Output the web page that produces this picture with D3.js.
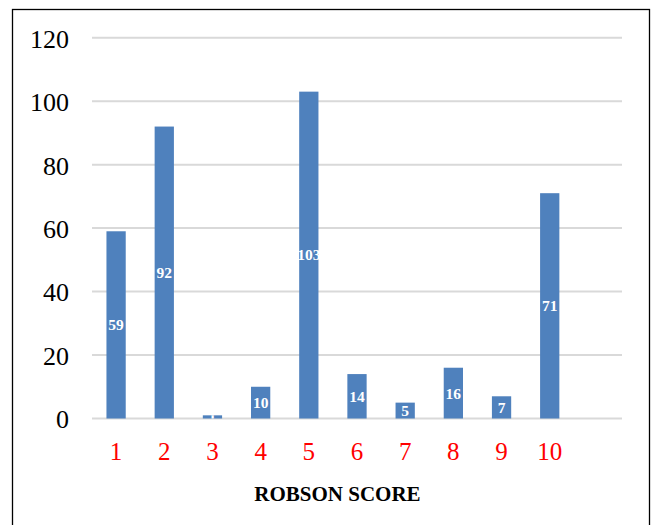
<!DOCTYPE html>
<html>
<head>
<meta charset="utf-8">
<script src="https://cdn.jsdelivr.net/npm/d3@7"></script>
<style>
  html, body { margin: 0; padding: 0; background: #fff; }
  svg { display: block; }
</style>
</head>
<body>
<svg id="chart" width="655" height="525"></svg>
<script>
// Robson group counts
const categories = ["1", "2", "3", "4", "5", "6", "7", "8", "9", "10", ""];
const values = [59, 92, 1, 10, 103, 14, 5, 16, 7, 71, null];
const yTicks = [0, 20, 40, 60, 80, 100, 120];
const xTitle = "ROBSON SCORE";

const svg = d3.select("#chart");
const font = "'Liberation Serif', 'Times New Roman', serif";

// outer frame
svg.append("rect")
  .attr("x", 12.5).attr("y", 9.5)
  .attr("width", 637).attr("height", 530)
  .attr("fill", "none").attr("stroke", "#000").attr("stroke-width", 1.3);

const plot = { left: 92, right: 622, top: 37.7, bottom: 418.5 };

const x = d3.scaleBand()
  .domain(categories.map((c, i) => i))
  .range([plot.left, plot.right])
  .paddingInner(0.6).paddingOuter(0.3);

const y = d3.scaleLinear().domain([0, 120]).range([plot.bottom, plot.top]);

// gridlines
svg.append("g").selectAll("line").data(yTicks).join("line")
  .attr("x1", plot.left).attr("x2", plot.right)
  .attr("y1", d => y(d)).attr("y2", d => y(d))
  .attr("stroke", "#d9d9d9").attr("stroke-width", 2);

// y axis labels
const yAxis = svg.append("g")
  .attr("transform", `translate(${69},0)`)
  .call(d3.axisLeft(y).tickValues(yTicks).tickSize(0).tickPadding(0));
yAxis.select(".domain").remove();
yAxis.selectAll("text")
  .attr("font-family", font).attr("font-size", 26).attr("fill", "#000")
  .attr("dy", "0.36em");

// bars
const data = categories.map((c, i) => ({ i, c, v: values[i] })).filter(d => d.v != null);
svg.append("g").selectAll("rect").data(data).join("rect")
  .attr("x", d => x(d.i)).attr("width", x.bandwidth())
  .attr("y", d => y(d.v)).attr("height", d => y(0) - y(d.v))
  .attr("fill", "#4f81bd");

// labels are clipped to each bar's vertical extent
const defs = svg.append("defs");
defs.selectAll("clipPath").data(data).join("clipPath")
  .attr("id", d => `bar-clip-${d.i}`)
  .append("rect")
  .attr("x", d => x(d.i) - 20).attr("width", x.bandwidth() + 40)
  .attr("y", d => y(d.v)).attr("height", d => y(0) - y(d.v));

// value labels centered inside bars
svg.append("g").selectAll("text").data(data).join("text")
  .attr("clip-path", d => `url(#bar-clip-${d.i})`)
  .attr("x", d => x(d.i) + x.bandwidth() / 2)
  .attr("y", d => (y(d.v) + y(0)) / 2)
  .attr("dy", "0.35em")
  .attr("text-anchor", "middle")
  .attr("font-family", font).attr("font-weight", "bold").attr("font-size", 15.5)
  .attr("fill", "#fff")
  .text(d => d.v);

// x axis category labels
const xAxis = svg.append("g")
  .attr("transform", `translate(0,${plot.bottom})`)
  .call(d3.axisBottom(x).tickFormat(i => categories[i]).tickSize(0).tickPadding(0));
xAxis.select(".domain").remove();
xAxis.selectAll("text")
  .attr("font-family", font).attr("font-size", 25).attr("fill", "#ff0000")
  .attr("dy", null).attr("y", 41.5);

// axis title
svg.append("text")
  .attr("x", 337.5).attr("y", 501)
  .attr("text-anchor", "middle")
  .attr("font-family", font).attr("font-weight", "bold").attr("font-size", 21)
  .attr("fill", "#000")
  .text(xTitle);
</script>
</body>
</html>
